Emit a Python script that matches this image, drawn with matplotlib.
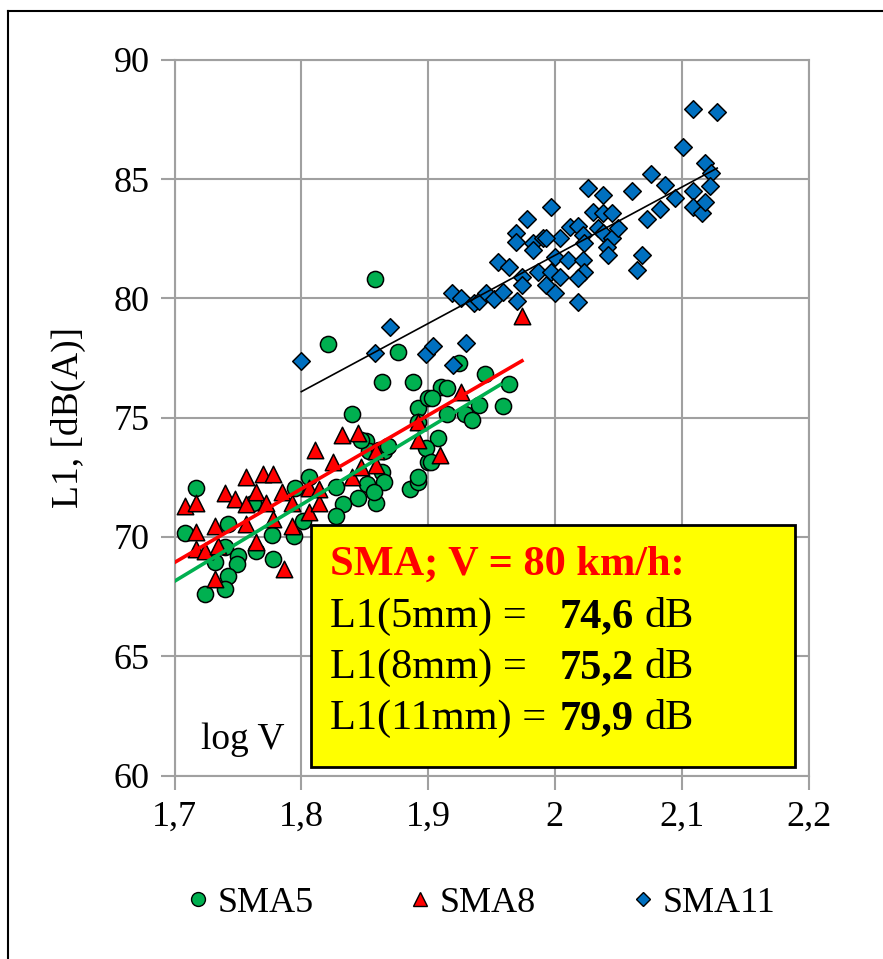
import numpy as np
import matplotlib
matplotlib.use("Agg")
import matplotlib.pyplot as plt
from matplotlib.lines import Line2D
from matplotlib.patches import Rectangle
from matplotlib.ticker import FuncFormatter

# --
# Data (log V, L1 in dB(A))
# --
sma5_x = [1.708, 1.717, 1.742, 1.740, 1.732, 1.750, 1.749, 1.742, 1.740, 1.724,
          1.762, 1.764, 1.778, 1.777, 1.794, 1.795, 1.806, 1.801, 1.840, 1.851,
          1.853, 1.861, 1.864, 1.865, 1.852, 1.845, 1.859, 1.833, 1.827, 1.827,
          1.886, 1.892, 1.892, 1.900, 1.900, 1.864, 1.888, 1.876, 1.858, 1.821,
          1.924, 1.945, 1.964, 1.959, 1.910, 1.915, 1.903, 1.915, 1.929, 1.935,
          1.940, 1.892, 1.908, 1.898, 1.902, 1.865, 1.892, 1.847, 1.868, 1.857]
sma5_y = [70.15, 72.07, 70.56, 69.56, 68.93, 69.18, 68.85, 68.35, 67.80, 67.59,
          71.44, 69.39, 69.06, 70.10, 70.02, 72.07, 72.53, 70.65, 75.13, 74.00,
          73.58, 73.66, 72.74, 72.28, 72.20, 71.65, 71.44, 71.36, 72.11, 70.86,
          71.99, 72.28, 75.42, 75.84, 73.16, 76.51, 76.51, 77.76, 80.82, 78.10,
          77.30, 76.84, 76.42, 75.50, 76.30, 76.26, 75.84, 75.13, 75.13, 74.92,
          75.54, 74.83, 74.16, 73.74, 73.16, 73.58, 72.49, 74.08, 73.80, 71.90]

sma8_x = [1.708, 1.717, 1.717, 1.717, 1.724, 1.732, 1.734, 1.740, 1.748, 1.756,
          1.756, 1.764, 1.770, 1.778, 1.772, 1.756, 1.764, 1.778, 1.785, 1.793,
          1.793, 1.786, 1.732, 1.806, 1.814, 1.811, 1.832, 1.845, 1.825, 1.840,
          1.847, 1.859, 1.859, 1.892, 1.892, 1.806, 1.814, 1.926, 1.909, 1.974]
sma8_y = [71.28, 71.44, 70.19, 69.48, 69.39, 70.44, 69.60, 71.86, 71.57, 72.49,
          71.36, 71.90, 72.62, 72.62, 71.44, 70.52, 69.77, 70.73, 71.90, 71.44,
          70.44, 68.64, 68.22, 71.03, 71.44, 73.66, 74.29, 74.37, 73.12, 72.53,
          72.91, 73.03, 73.58, 74.83, 74.08, 72.07, 71.99, 76.09, 73.45, 79.27]

sma11_x = [1.800, 1.870, 1.858, 1.898, 1.904, 1.930, 1.920, 1.919, 1.926, 1.936,
           1.940, 1.946, 1.952, 1.959, 1.970, 1.955, 1.964, 1.974, 1.974, 1.969,
           1.969, 1.978, 1.983, 1.983, 1.991, 1.997, 1.993, 2.000, 1.987, 1.997,
           2.004, 2.000, 2.004, 2.010, 2.012, 2.018, 2.022, 2.022, 2.023, 2.018,
           2.018, 2.023, 2.026, 2.038, 2.030, 2.038, 2.045, 2.034, 2.038, 2.045,
           2.050, 2.041, 2.042, 2.061, 2.069, 2.065, 2.073, 2.076, 2.083, 2.087,
           2.095, 2.101, 2.109, 2.109, 2.116, 2.118, 2.118, 2.123, 2.122, 2.109,
           2.128, 1.993]
sma11_y = [77.39, 78.81, 77.72, 77.68, 78.01, 78.14, 77.22, 80.23, 80.02, 79.81,
           79.90, 80.23, 79.98, 80.27, 79.90, 81.53, 81.32, 80.90, 80.56, 82.74,
           82.36, 83.33, 82.32, 82.03, 82.53, 83.83, 80.56, 80.23, 81.11, 81.11,
           80.90, 81.74, 82.53, 81.61, 82.99, 83.03, 82.66, 81.61, 81.11, 80.86,
           79.85, 82.32, 84.62, 84.33, 83.62, 83.58, 83.58, 82.95, 82.74, 82.53,
           82.95, 82.15, 81.82, 84.50, 81.82, 81.19, 83.33, 85.21, 83.74, 84.75,
           84.21, 86.34, 84.50, 83.83, 83.58, 84.04, 85.67, 85.25, 84.71, 87.93,
           87.80, 82.53]

# linear trend lines as shown on the chart: (slope, intercept, x from, x to)
trend5 = (32.06, 13.64, 1.700, 1.957)
trend8 = (30.84, 16.50, 1.700, 1.974)
trend11 = (28.57, 24.66, 1.800, 2.128)

series_names = ["SMA5", "SMA8", "SMA11"]
x_ticks = [1.7, 1.8, 1.9, 2.0, 2.1, 2.2]
y_ticks = [60, 65, 70, 75, 80, 85, 90]

box_title = "SMA; V = 80 km/h:"
box_labels = ["L1(5mm) =", "L1(8mm) =", "L1(11mm) ="]
box_values = ["74,6", "75,2", "79,9"]

# --
# Plot setup
# --
plt.rcParams["font.family"] = ["Liberation Serif", "DejaVu Serif"]

W, H = 883, 959
fig = plt.figure(figsize=(W / 100, H / 100), dpi=100)
ax = fig.add_axes([174.5 / W, 1 - 775.5 / H, 634 / W, 715.8 / H])

green, red, blue = "#00B050", "#FF0000", "#0070C0"
grid_c = "#A0A0A0"

ax.set_xlim(1.7, 2.2)
ax.set_ylim(60, 90)
ax.set_xticks(x_ticks)
ax.set_yticks(y_ticks)
ax.xaxis.set_major_formatter(FuncFormatter(lambda v, p: f"{v:g}".replace(".", ",")))
ax.tick_params(labelsize=26, length=10, width=1.5, color=grid_c, pad=8)
ax.grid(True, color=grid_c, linewidth=1.5)
ax.set_axisbelow(True)
for s in ax.spines.values():
    s.set_color(grid_c)
    s.set_linewidth(1.5)

ax.set_ylabel("L1, [dB(A)]", fontsize=27, labelpad=20)

ax.scatter(sma5_x, sma5_y, s=135, marker="o", c=green, edgecolors="black", linewidths=1.1, zorder=3)
ax.scatter(sma8_x, sma8_y, s=140, marker="^", c=red, edgecolors="black", linewidths=1.1, zorder=3)
ax.scatter(sma11_x, sma11_y, s=80, marker="D", c=blue, edgecolors="black", linewidths=1.1, zorder=3)

for (k, b, x0, x1), col, lw in [(trend5, green, 2.6), (trend8, red, 2.6), (trend11, "black", 1.2)]:
    xx = np.array([x0, x1])
    ax.plot(xx, k * xx + b, color=col, linewidth=lw, zorder=4)

ax.text(0.108, 0.05, "log V", transform=ax.transAxes, fontsize=27, ha="center", va="center")

# info box
ax.add_patch(Rectangle((0.2153, 0.0119), 0.7634, 0.338, transform=ax.transAxes,
                       facecolor="#FFFF00", edgecolor="black", linewidth=2, zorder=6))
ax.text(0.245, 0.280, box_title, transform=ax.transAxes, fontsize=30.5, color=red,
        fontweight="bold", va="baseline", zorder=7)
for i, (lab, val) in enumerate(zip(box_labels, box_values)):
    yy = 0.2075 - i * 0.0713
    ax.text(0.245, yy, lab, transform=ax.transAxes, fontsize=30.5, va="baseline", zorder=7)
    ax.text(0.608, yy, val, transform=ax.transAxes, fontsize=30.5, fontweight="bold", va="baseline", zorder=7)
    ax.text(0.742, yy, "dB", transform=ax.transAxes, fontsize=30.5, va="baseline", zorder=7)

# legend
handles = [
    Line2D([], [], marker="o", color="none", markerfacecolor=green, markeredgecolor="black", markersize=10),
    Line2D([], [], marker="^", color="none", markerfacecolor=red, markeredgecolor="black", markersize=10),
    Line2D([], [], marker="D", color="none", markerfacecolor=blue, markeredgecolor="black", markersize=7),
]
fig.legend(handles, series_names, loc="center", bbox_to_anchor=(482 / W, 1 - 903 / H), ncol=3,
           frameon=False, fontsize=26, handlelength=0.5, handletextpad=0.3, columnspacing=2.7)

# outer frame
fig.add_artist(Line2D([8 / W, 1], [1 - 11 / H, 1 - 11 / H], color="black", linewidth=1.5))
fig.add_artist(Line2D([8 / W, 8 / W], [0, 1 - 11 / H], color="black", linewidth=1.5))

fig.savefig("out.png", dpi=100)
